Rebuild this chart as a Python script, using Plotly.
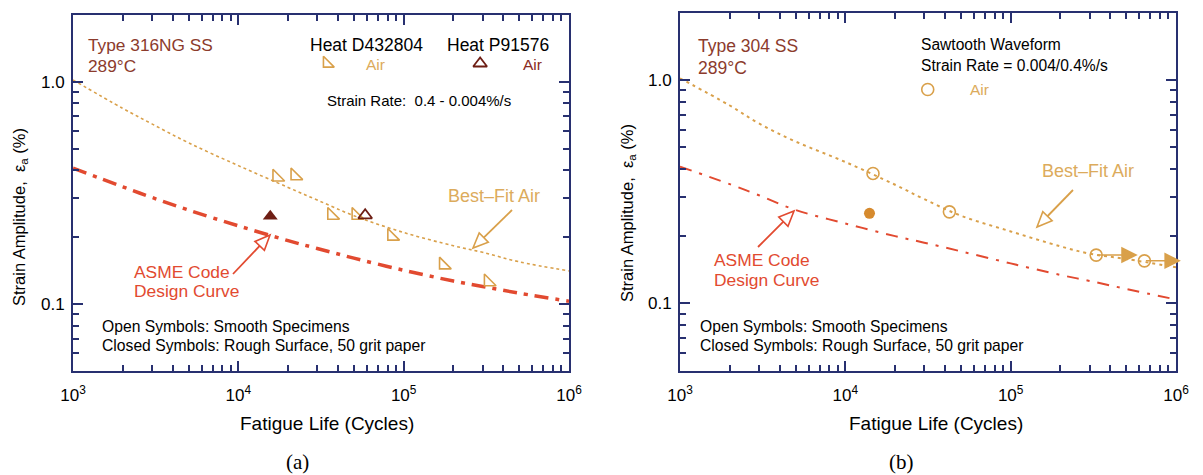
import math
import plotly.graph_objects as go

# ---------------- data ----------------
N_grid = [1e3, 2e3, 3e3, 5e3, 1e4, 2e4, 3e4, 5e4, 1e5, 2e5, 3e5, 5e5, 1e6]

# panel (a) Type 316NG SS
a_air_fit = [1.02, 0.76, 0.647, 0.532, 0.42, 0.335, 0.294, 0.25, 0.21, 0.183, 0.171, 0.155, 0.141]
a_asme = [0.409, 0.337, 0.302, 0.265, 0.225, 0.193, 0.178, 0.161, 0.142, 0.127, 0.12, 0.112, 0.103]
a_d432804_N = [1.71e4, 2.20e4, 3.67e4, 5.15e4, 8.47e4, 1.74e5, 3.25e5]
a_d432804_eps = [0.373, 0.378, 0.251, 0.251, 0.202, 0.150, 0.126]
a_p91576_N = [5.85e4]
a_p91576_eps = [0.251]
a_rough_N = [1.56e4]
a_rough_eps = [0.2485]
a_key_N = [3.44e4, 2.9e5]
a_key_eps = [1.21, 1.21]

# panel (b) Type 304 SS
b_air_fit = [1.02, 0.77, 0.64, 0.531, 0.43, 0.34, 0.293, 0.247, 0.21, 0.18, 0.167, 0.158, 0.145]
b_asme = [0.41, 0.342, 0.305, 0.262, 0.228, 0.20, 0.187, 0.171, 0.151, 0.134, 0.126, 0.116, 0.104]
b_smooth_N = [1.47e4, 4.26e4, 3.29e5, 6.44e5]
b_smooth_eps = [0.382, 0.257, 0.1645, 0.155]
b_rough_N = [1.40e4]
b_rough_eps = [0.253]
b_runout_from_N = [3.29e5, 6.44e5]
b_runout_to_N = [5.87e5, 1.07e6]
b_runout_eps = [0.1645, 0.155]
b_key_N = [3.15e4]
b_key_eps = [0.908]

x_ticks = [1e3, 1e4, 1e5, 1e6]
x_ticktext = ["10<sup>3</sup>", "10<sup>4</sup>", "10<sup>5</sup>", "10<sup>6</sup>"]
y_ticks = [0.1, 1.0]
y_ticktext = ["0.1", "1.0"]

# ---------------- style ----------------
W, H = 1203, 475
SANS = "Liberation Sans, Arial, sans-serif"
SERIF = "Liberation Serif, Times New Roman, serif"
NAVY = "#283070"
TAN = "#d9a04a"
TAN_TXT = "#dcab5c"
RED = "#e24a30"
BROWN = "#8c3b2c"
DARK = "#6e1e14"
ORANGE = "#d68a2e"

fig = go.Figure()

# panel (a)
fig.add_trace(go.Scatter(x=N_grid, y=a_air_fit, mode="lines", line=dict(color=TAN, width=1.6, dash="3px,3px"),
                         line_shape="spline", xaxis="x", yaxis="y"))
fig.add_trace(go.Scatter(x=N_grid, y=a_asme, mode="lines", line=dict(color=RED, width=3.5, dash="14px,7px,4px,7px"),
                         line_shape="spline", xaxis="x", yaxis="y"))
fig.add_trace(go.Scatter(x=a_d432804_N, y=a_d432804_eps, mode="markers",
                         marker=dict(symbol="triangle-sw-open", size=13, color=TAN, line=dict(width=1.6, color=TAN)),
                         xaxis="x", yaxis="y"))
fig.add_trace(go.Scatter(x=a_p91576_N, y=a_p91576_eps, mode="markers",
                         marker=dict(symbol="triangle-up-open", size=12, color=DARK, line=dict(width=1.8, color=DARK)),
                         xaxis="x", yaxis="y"))
fig.add_trace(go.Scatter(x=a_rough_N, y=a_rough_eps, mode="markers",
                         marker=dict(symbol="triangle-up", size=13, color=DARK),
                         xaxis="x", yaxis="y"))
fig.add_trace(go.Scatter(x=a_key_N[:1], y=a_key_eps[:1], mode="markers",
                         marker=dict(symbol="triangle-sw-open", size=12, color=TAN, line=dict(width=1.6, color=TAN)),
                         xaxis="x", yaxis="y"))
fig.add_trace(go.Scatter(x=a_key_N[1:], y=a_key_eps[1:], mode="markers",
                         marker=dict(symbol="triangle-up-open", size=12, color=DARK, line=dict(width=1.8, color=DARK)),
                         xaxis="x", yaxis="y"))

# panel (b)
fig.add_trace(go.Scatter(x=N_grid, y=b_air_fit, mode="lines", line=dict(color=TAN, width=2, dash="3px,4px"),
                         line_shape="spline", xaxis="x2", yaxis="y2"))
fig.add_trace(go.Scatter(x=N_grid, y=b_asme, mode="lines", line=dict(color=RED, width=2, dash="12px,8px,3px,8px"),
                         line_shape="spline", xaxis="x2", yaxis="y2"))
fig.add_trace(go.Scatter(x=b_smooth_N, y=b_smooth_eps, mode="markers",
                         marker=dict(symbol="circle-open", size=12, color=TAN, line=dict(width=1.6, color=TAN)),
                         xaxis="x2", yaxis="y2"))
fig.add_trace(go.Scatter(x=b_rough_N, y=b_rough_eps, mode="markers",
                         marker=dict(symbol="circle", size=11, color=ORANGE),
                         xaxis="x2", yaxis="y2"))
fig.add_trace(go.Scatter(x=b_key_N, y=b_key_eps, mode="markers",
                         marker=dict(symbol="circle-open", size=12, color=TAN, line=dict(width=1.6, color=TAN)),
                         xaxis="x2", yaxis="y2"))

annotations = []
shapes = []


def txt(x, y, s, size, color, xanchor="left", family=SANS, angle=0):
    annotations.append(dict(x=x / W, y=1 - y / H, xref="paper", yref="paper", text=s, showarrow=False,
                            xanchor=xanchor, yanchor="middle", textangle=angle,
                            font=dict(size=size, color=color, family=family)))


def hollow_arrow(tail, tip, color):
    sx, sy = tail
    tx, ty = tip
    dx, dy = tx - sx, ty - sy
    L = math.hypot(dx, dy)
    ux, uy = dx / L, dy / L
    hl, hw = 15, 6.5
    bx, by = tx - ux * hl, ty - uy * hl
    nx, ny = -uy, ux
    p1 = (bx + nx * hw, by + ny * hw)
    p2 = (bx - nx * hw, by - ny * hw)
    P = lambda p: f"{p[0] / W:.5f},{1 - p[1] / H:.5f}"
    shapes.append(dict(type="path", xref="paper", yref="paper", path=f"M{P((sx, sy))} L{P((bx, by))}",
                       line=dict(color=color, width=1.8)))
    shapes.append(dict(type="path", xref="paper", yref="paper",
                       path=f"M{P((tx, ty))} L{P(p1)} L{P(p2)} Z",
                       line=dict(color=color, width=1.6), fillcolor="white"))


# panel (a) texts
txt(86, 45, "Type 316NG SS", 17.3, BROWN)
txt(86, 66, "289°C", 17.3, BROWN)
txt(366, 45, "Heat D432804", 17.5, "black", "center")
txt(498, 45, "Heat P91576", 17.5, "black", "center")
txt(375, 64, "Air", 15.5, TAN_TXT, "center")
txt(532, 64, "Air", 15.5, "#8b2a1e", "center")
txt(419, 100, "Strain Rate:\u00a0 0.4 - 0.004%/s", 15, "black", "center")
txt(494, 196, "Best\u2013Fit Air", 18, TAN_TXT, "center")
txt(132, 272, "ASME Code", 17.4, RED)
txt(132, 291, "Design Curve", 17.4, RED)
txt(100, 326, "Open Symbols: Smooth Specimens", 15.7, "black")
txt(100, 345, "Closed Symbols: Rough Surface, 50 grit paper", 15.7, "black")
txt(327, 423, "Fatigue Life (Cycles)", 19, "black", "center")
txt(20, 217, "Strain Amplitude,\u00a0 \u03b5<sub>a</sub> (%)", 16.5, "black", "center", angle=-90)
txt(297, 462, "(a)", 21, "black", "center", family=SERIF)
hollow_arrow((233, 274), (270, 235), RED)
hollow_arrow((512, 210), (473, 248), TAN)

# panel (b) texts
txt(696, 46, "Type 304 SS", 17.5, BROWN)
txt(696, 68, "289°C", 17.5, BROWN)
txt(919, 45, "Sawtooth Waveform", 15.6, "black")
txt(919, 66, "Strain Rate = 0.004/0.4%/s", 15.6, "black")
txt(979, 89, "Air", 15.5, TAN_TXT, "center")
txt(1088, 171, "Best\u2013Fit Air", 18, TAN_TXT, "center")
txt(712, 260, "ASME Code", 17.4, RED)
txt(712, 280, "Design Curve", 17.4, RED)
txt(698, 326, "Open Symbols: Smooth Specimens", 15.7, "black")
txt(698, 345, "Closed Symbols: Rough Surface, 50 grit paper", 15.7, "black")
txt(936, 423, "Fatigue Life (Cycles)", 19, "black", "center")
txt(628, 213, "Strain Amplitude,\u00a0 \u03b5<sub>a</sub> (%)", 16.5, "black", "center", angle=-90)
txt(901, 462, "(b)", 21, "black", "center", family=SERIF)
hollow_arrow((758, 247), (794, 211), RED)
hollow_arrow((1073, 190), (1037, 227), TAN)

# run-out arrows (panel b)
for n0, n1, e in zip(b_runout_from_N, b_runout_to_N, b_runout_eps):
    annotations.append(dict(x=math.log10(n1), y=math.log10(e), ax=math.log10(n0), ay=math.log10(e),
                            xref="x2", yref="y2", axref="x2", ayref="y2", text="", showarrow=True,
                            arrowhead=2, arrowsize=2.2, arrowwidth=1.5, arrowcolor=TAN))

x_minor = [m * 10 ** k for k in (3, 4, 5) for m in range(2, 10)]
y_minor = [m * 10 ** k for k in (-2, -1) for m in range(2, 10) if m * 10 ** k >= 0.05] + [2.0]


def xaxis(domain, anchor):
    return dict(type="log", range=[3, 6], domain=domain, anchor=anchor, automargin=False, showline=True,
                linecolor=NAVY, linewidth=2, mirror="ticks", ticks="inside", ticklen=10, tickwidth=1.5,
                tickcolor=NAVY, tickmode="array", tickvals=x_ticks, ticktext=x_ticktext, showgrid=False,
                zeroline=False, tickfont=dict(size=17, color="black", family=SANS), ticklabelstandoff=8,
                minor=dict(tickmode="array", tickvals=x_minor, ticks="inside", ticklen=6, tickwidth=1.5,
                           tickcolor=NAVY, showgrid=False))


def yaxis(domain, anchor):
    return dict(type="log", range=[math.log10(0.05), math.log10(2.0)], domain=domain, anchor=anchor,
                automargin=False, showline=True, linecolor=NAVY, linewidth=2, mirror="ticks", ticks="inside",
                ticklen=10, tickwidth=1.5, tickcolor=NAVY, tickmode="array", tickvals=y_ticks,
                ticktext=y_ticktext, showgrid=False, zeroline=False,
                tickfont=dict(size=17, color="black", family=SANS), ticklabelstandoff=3,
                minor=dict(tickmode="array", tickvals=y_minor, ticks="inside", ticklen=6, tickwidth=1.5,
                           tickcolor=NAVY, showgrid=False))


fig.update_layout(
    width=W, height=H, margin=dict(l=0, r=0, t=0, b=0, autoexpand=False),
    paper_bgcolor="white", plot_bgcolor="white", showlegend=False,
    xaxis=xaxis([73 / W, 569 / W], "y"),
    yaxis=yaxis([1 - 371 / H, 1 - 15 / H], "x"),
    xaxis2=xaxis([680 / W, 1176 / W], "y2"),
    yaxis2=yaxis([1 - 370.5 / H, 1 - 13 / H], "x2"),
    annotations=annotations, shapes=shapes,
)

fig.write_html("out.html", config={"displayModeBar": False},
               post_script="document.body.style.margin='0';document.body.style.overflow='hidden';")
